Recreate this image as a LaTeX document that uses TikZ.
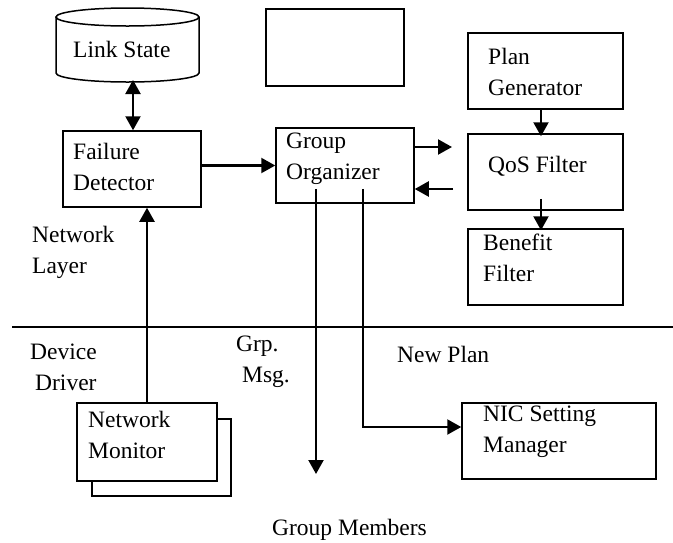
\documentclass[tikz,border=0pt]{standalone}
\usepackage{fontspec}
\setmainfont{Liberation Serif}
\usetikzlibrary{arrows.meta,positioning,calc}

\begin{document}
\begin{tikzpicture}[
  x=1pt, y=-1pt, >={Triangle[length=14pt,width=15pt]},
  font=\fontsize{23.5}{31}\selectfont,
  box/.style={draw, line width=1.5pt, rectangle, inner sep=0pt, fill=white},
  txt/.style={align=left, anchor=base west, inner sep=0pt},
  link/.style={->, line width=2.2pt}
]
  \useasboundingbox (0,0) rectangle (673,542);

  % link state store
  \draw[line width=1.5pt] (56,17) -- (56,73)
    arc[start angle=180, end angle=360, x radius=71.5pt, y radius=9pt] -- (199,17);
  \draw[line width=1.5pt] (127.5,17) ellipse[x radius=71.5pt, y radius=9pt];
  \coordinate (lsb) at (133,80);
  \node[txt] (ls) at (73,57) {Link State};

  % boxes
  \node[box, minimum width=138pt, minimum height=77pt] (blank) at (335,47.5) {};
  \node[box, minimum width=138pt, minimum height=76pt] (fd) at (132,169) {};
  \node[box, minimum width=138pt, minimum height=75pt] (go) at (345,165.5) {};
  \node[box, minimum width=155pt, minimum height=76pt] (pg) at (545.5,71) {};
  \node[box, minimum width=155pt, minimum height=76pt] (qos) at (545.5,172) {};
  \node[box, minimum width=155pt, minimum height=76pt] (bf) at (545.5,267) {};
  \node[box, minimum width=194pt, minimum height=76pt] (nic) at (559,441) {};
  \node[box, minimum width=139pt, minimum height=77pt] (nmback) at (161.5,457.5) {};
  \node[box, minimum width=140pt, minimum height=78pt] (nm) at (147,442) {};

  % box texts (base = last line)
  \node[txt] (fdtxt) at (73,190) {Failure\\Detector};
  \node[txt] (gotxt) at (286,179) {Group\\Organizer};
  \node[txt] (pgtxt) at (488,95) {Plan\\Generator};
  \node[txt] (qostxt) at (488,172) {QoS Filter};
  \node[txt] (bftxt) at (483,281) {Benefit\\Filter};
  \node[txt] (nictxt) at (483,452) {NIC Setting\\Manager};
  \node[txt] (nmtxt) at (88,458) {Network\\Monitor};

  % layers
  \draw[line width=1.8pt] (12,327) -- (673,327);
  \node[txt] (netlayer) at (32,273) {Network\\Layer};
  \node[txt] (devdriver) at (30,390) {Device\\\hspace*{5pt}Driver};

  % free ends
  \coordinate (qa) at (452,147);
  \coordinate (qb) at (453,189);
  \coordinate (gm) at (316,474);

  % connectors
  \draw[<->, line width=2.2pt] (lsb) -- (lsb |- fd.north);
  \draw[link] (fd.east |- go.west) -- (go.west);
  \draw[link] (go.east |- qa) -- (qa);
  \draw[link] (qb) -- (go.east |- qb);
  \draw[link, shorten >=-3pt] ([xshift=-4.5pt]pg.south) -- ([xshift=-4.5pt]qos.north);
  \draw[link, shorten >=-2pt] ([xshift=-4.5pt,yshift=12pt]qos.south) -- ([xshift=-4.5pt]bf.north);
  \draw[link] (nm.north) -- (nm.north |- fd.south);
  \draw[link] ([xshift=-29pt,yshift=15pt]go.south) -- (gm);
  \draw[link] ([xshift=18pt,yshift=15pt]go.south) |- ([yshift=14pt]nic.west);

  % connector labels
  \node[txt] (grpmsg) at (236,382) {Grp.\\\hspace*{6pt}Msg.};
  \node[txt] (newplan) at (397,362) {New Plan};
  \node[txt] (members) at (272,535) {Group Members};
\end{tikzpicture}
\end{document}
